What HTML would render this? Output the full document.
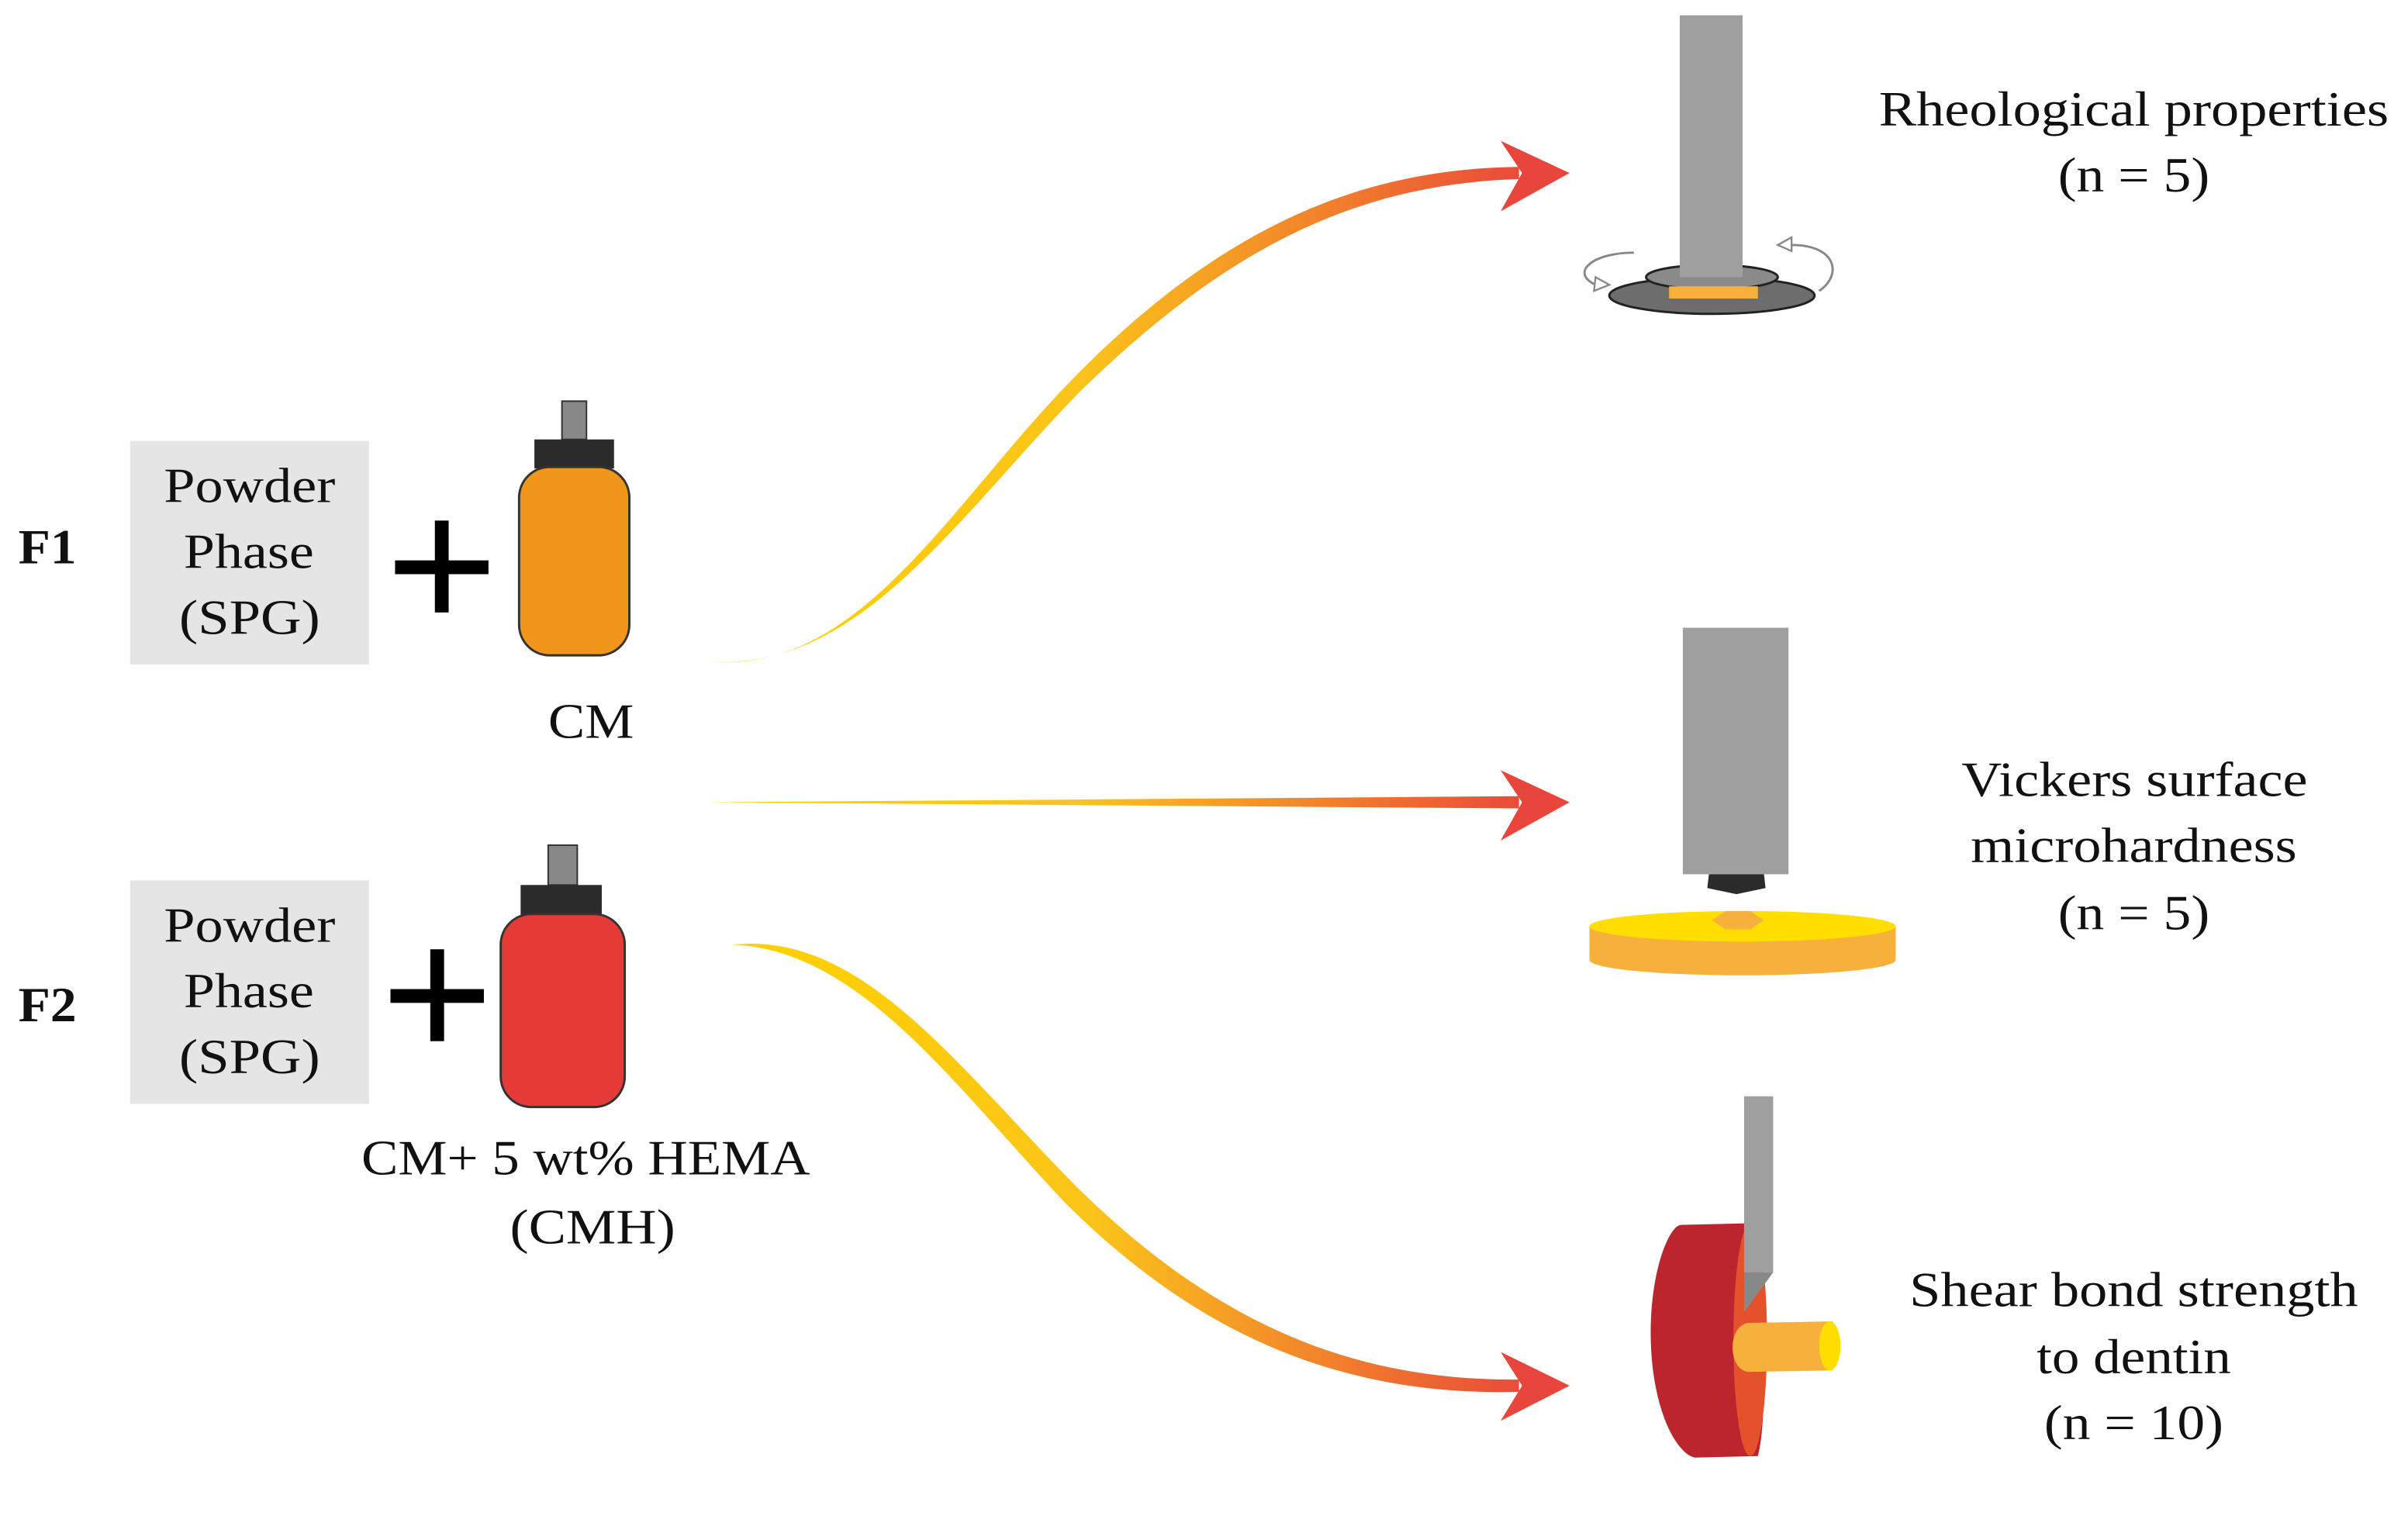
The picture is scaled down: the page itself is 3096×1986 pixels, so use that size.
<!DOCTYPE html>
<html><head><meta charset="utf-8"><style>
html,body{margin:0;padding:0;background:#fff;}
svg{display:block;}
</style></head><body>
<svg width="3096" height="1986" viewBox="0 0 1568 1005.8" preserveAspectRatio="none" xmlns="http://www.w3.org/2000/svg">
<defs>
<linearGradient id="g1" gradientUnits="userSpaceOnUse" x1="462" y1="0" x2="1000" y2="0">
<stop offset="0" stop-color="#ffd200"/><stop offset="0.45" stop-color="#fbc41a"/><stop offset="1" stop-color="#e9483a"/></linearGradient>
<linearGradient id="g3" gradientUnits="userSpaceOnUse" x1="478" y1="0" x2="1000" y2="0">
<stop offset="0" stop-color="#ffd200"/><stop offset="0.45" stop-color="#fbc41a"/><stop offset="1" stop-color="#e9483a"/></linearGradient>
</defs>
<rect width="1568" height="1006" fill="#fff"/>

<g font-family="'Liberation Serif', 'DejaVu Serif', serif" fill="#111" font-size="32" lengthAdjust="spacingAndGlyphs">
<text x="12" y="368" font-weight="bold" textLength="38" lengthAdjust="spacingAndGlyphs">F1</text>
<text x="12" y="667" font-weight="bold" textLength="38" lengthAdjust="spacingAndGlyphs">F2</text>

<text x="107" y="328" textLength="112" lengthAdjust="spacingAndGlyphs">Powder</text>
<text x="120" y="371" textLength="85" lengthAdjust="spacingAndGlyphs">Phase</text>
<text x="117" y="414" textLength="92" lengthAdjust="spacingAndGlyphs">(SPG)</text>
<text x="107" y="615" textLength="112" lengthAdjust="spacingAndGlyphs">Powder</text>
<text x="120" y="658" textLength="85" lengthAdjust="spacingAndGlyphs">Phase</text>
<text x="117" y="701" textLength="92" lengthAdjust="spacingAndGlyphs">(SPG)</text>

<text x="358" y="482" textLength="56" lengthAdjust="spacingAndGlyphs">CM</text>
<text x="236" y="767" textLength="293" lengthAdjust="spacingAndGlyphs">CM+ 5 wt% HEMA</text>
<text x="333" y="812" textLength="108" lengthAdjust="spacingAndGlyphs">(CMH)</text>

<text x="1227" y="82" textLength="333" lengthAdjust="spacingAndGlyphs">Rheological properties</text>
<text x="1344" y="125" textLength="99" lengthAdjust="spacingAndGlyphs">(n = 5)</text>
<text x="1281" y="520" textLength="226" lengthAdjust="spacingAndGlyphs">Vickers surface</text>
<text x="1287" y="563" textLength="213" lengthAdjust="spacingAndGlyphs">microhardness</text>
<text x="1344" y="607" textLength="99" lengthAdjust="spacingAndGlyphs">(n = 5)</text>
<text x="1247" y="853" textLength="293" lengthAdjust="spacingAndGlyphs">Shear bond strength</text>
<text x="1330" y="897" textLength="127" lengthAdjust="spacingAndGlyphs">to dentin</text>
<text x="1335" y="940" textLength="117" lengthAdjust="spacingAndGlyphs">(n = 10)</text>
</g>

<rect x="85" y="288" width="156" height="146" fill="#e6e5e6"/>
<rect x="85" y="575" width="156" height="146" fill="#e6e5e6"/>
<g font-family="'Liberation Serif', 'DejaVu Serif', serif" fill="#111" font-size="32">
<text x="107" y="328" textLength="112" lengthAdjust="spacingAndGlyphs">Powder</text>
<text x="120" y="371" textLength="85" lengthAdjust="spacingAndGlyphs">Phase</text>
<text x="117" y="414" textLength="92" lengthAdjust="spacingAndGlyphs">(SPG)</text>
<text x="107" y="615" textLength="112" lengthAdjust="spacingAndGlyphs">Powder</text>
<text x="120" y="658" textLength="85" lengthAdjust="spacingAndGlyphs">Phase</text>
<text x="117" y="701" textLength="92" lengthAdjust="spacingAndGlyphs">(SPG)</text>
</g>

<!-- plus signs -->
<rect x="258" y="366" width="61" height="9" fill="#000"/><rect x="284" y="340" width="9" height="60" fill="#000"/>
<rect x="255" y="646" width="61" height="9" fill="#000"/><rect x="281" y="620" width="9" height="60" fill="#000"/>

<!-- bottle 1 -->
<rect x="367" y="262" width="16" height="25" fill="#888" stroke="#333" stroke-width="1"/>
<rect x="349" y="287" width="52" height="19" fill="#2b2b2b"/>
<rect x="339" y="305" width="72" height="123" rx="20" fill="#f0961a" stroke="#333" stroke-width="1.5"/>

<!-- bottle 2 -->
<rect x="358" y="552" width="19" height="26" fill="#888" stroke="#333" stroke-width="1"/>
<rect x="340" y="578" width="53" height="20" fill="#2b2b2b"/>
<rect x="327" y="597" width="81" height="126" rx="20" fill="#e53a35" stroke="#333" stroke-width="1.5"/>

<!-- arrows -->
<path d="M462,432 C560,442 620,330 700,248 C790,156 880,110 992,109 L992,117 C880,120 795,168 705,256 C625,338 560,440 462,432 Z" fill="url(#g1)"/>
<path d="M980,92 L1025,113 L980,138 L994,113 Z" fill="#e8453c"/>

<path d="M462,524 L992,520 L992,528 Z" fill="url(#g1)"/>
<path d="M980,503 L1025,524 L980,549 L994,524 Z" fill="#e8453c"/>

<path d="M478,617 C560,608 620,690 700,772 C790,862 880,902 992,901 L992,909 C880,912 785,875 695,785 C620,705 560,620 478,617 Z" fill="url(#g3)"/>
<path d="M980,883 L1025,905 L980,928 L994,905 Z" fill="#e8453c"/>

<!-- rheometer -->
<ellipse cx="1118" cy="193" rx="67" ry="12" fill="#6d6d6d" stroke="#222" stroke-width="1.5"/>
<ellipse cx="1118" cy="181" rx="43" ry="8" fill="#8a8a8a" stroke="#222" stroke-width="1.5"/>
<rect x="1090" y="187" width="58" height="8" fill="#f8b03c"/>
<rect x="1097" y="10" width="41" height="171" fill="#a09fa0"/>
<path d="M1067,165 C1040,165 1025,178 1042,186" fill="none" stroke="#888" stroke-width="1.5"/>
<path d="M1042,181 L1051,186 L1041,190 Z" fill="#fff" stroke="#888" stroke-width="1.2"/>
<path d="M1170,160 C1200,160 1203,180 1188,190" fill="none" stroke="#888" stroke-width="1.5"/>
<path d="M1170,155 L1161,160 L1170,164 Z" fill="#fff" stroke="#888" stroke-width="1.2"/>

<!-- vickers -->
<rect x="1099" y="410" width="69" height="161" fill="#a09fa0"/>
<path d="M1116,571 L1152,571 L1153,580 L1134,584 L1115,580 Z" fill="#2b2b2b"/>
<path d="M1038,605 L1038,627 A100,10 0 0 0 1238,627 L1238,605 Z" fill="#f8b03c"/>
<ellipse cx="1138" cy="605" rx="100" ry="10" fill="#ffde00"/>
<path d="M1118,601 L1127,595 L1143,595 L1152,601 L1143,607 L1127,607 Z" fill="#f8b03c"/>

<!-- shear -->
<path d="M1098,800 L1140,799 C1150,840 1156,920 1148,951 L1107,952 C1095,950 1078,920 1078,870 C1078,830 1090,800 1098,800 Z" fill="#bc252d"/>
<ellipse cx="1143" cy="875" rx="11" ry="76" fill="#e4512b"/>
<rect x="1139" y="716" width="19" height="115" fill="#a09fa0"/>
<path d="M1139,831 L1158,831 L1139,857 Z" fill="#888"/>
<path d="M1142,864 L1197,863 L1197,895 L1142,896 C1128,895 1128,865 1142,864 Z" fill="#f8b03c"/>
<ellipse cx="1195" cy="879" rx="7" ry="16" fill="#ffde00"/>
</svg>
</body></html>
